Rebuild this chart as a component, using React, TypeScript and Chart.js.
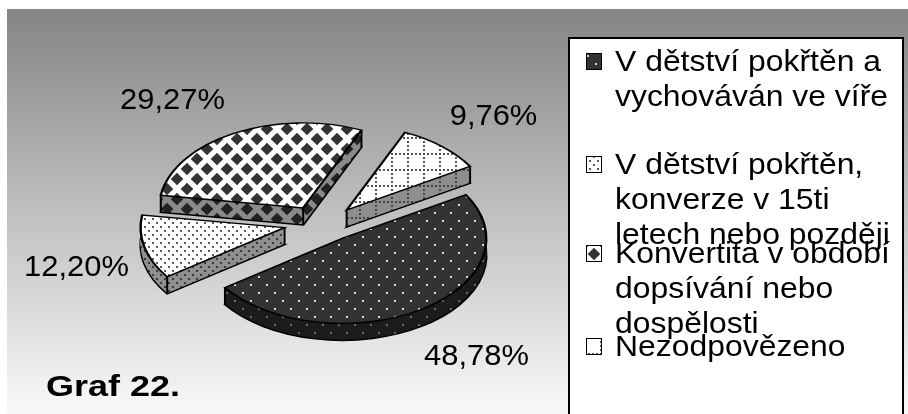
import React, { useEffect, useRef } from 'react';
import { Chart, PieController, ArcElement } from 'chart.js';

Chart.register(PieController, ArcElement);

// ---------------- data ----------------
const categories = [
  'V dětství pokřtěn a vychováván ve víře',
  'V dětství pokřtěn, konverze v 15ti letech nebo později',
  'Konvertita v období dopsívání nebo dospělosti',
  'Nezodpovězeno',
];
const legendLines = [
  ['V dětství pokřtěn a', 'vychováván ve víře'],
  ['V dětství pokřtěn,', 'konverze v 15ti', 'letech nebo později'],
  ['Konvertita v období', 'dopsívání nebo', 'dospělosti'],
  ['Nezodpovězeno'],
];
const values = [48.78, 12.2, 29.27, 9.76];
const valueLabels = ['48,78%', '12,20%', '29,27%', '9,76%'];
const title = 'Graf 22.';

// ---------------- layout / style ----------------
const W = 901;
const H = 405;
const RADIUS = 144;
const K = 0.59; // vertical squash of the pie
const DEPTH = 17;
const EXPLODE = 38;
const EXPLODE_KY = 0.47;
const BW = 2.4;
const labelOffsets = [
  [155, 133],
  [-245, 44],
  [-149, -123],
  [172, -107],
];
const legendBaselines = [
  [62, 97],
  [165, 200, 235],
  [254, 289, 324],
  [347],
];

function tile(w: number, h: number, draw: (g: CanvasRenderingContext2D) => void) {
  const c = document.createElement('canvas');
  c.width = w;
  c.height = h;
  const g = c.getContext('2d')!;
  draw(g);
  return c;
}

function dotsTile(size: number, bg: string, fg: string, pts: number[][], d: number) {
  return tile(size, size, (g) => {
    g.fillStyle = bg;
    g.fillRect(0, 0, size, size);
    g.fillStyle = fg;
    pts.forEach(([x, y]) => g.fillRect(x, y, d, d));
  });
}

function diamondTile(bg: string, fg: string) {
  const s = 20;
  const h = s / 2;
  const a = 6.3;
  return tile(s, s, (g) => {
    g.fillStyle = bg;
    g.fillRect(0, 0, s, s);
    g.fillStyle = fg;
    [[0, 0], [s, 0], [0, s], [s, s], [h, h]].forEach(([x, y]) => {
      g.beginPath();
      g.moveTo(x - a, y);
      g.lineTo(x, y - a);
      g.lineTo(x + a, y);
      g.lineTo(x, y + a);
      g.closePath();
      g.fill();
    });
  });
}

function gridTile(bg: string, fg: string) {
  return tile(16, 16, (g) => {
    g.fillStyle = bg;
    g.fillRect(0, 0, 16, 16);
    g.fillStyle = fg;
    for (let i = 0; i < 16; i += 4) {
      g.fillRect(0, i, 2, 2);
      if (i > 0) g.fillRect(i, 0, 2, 2);
    }
  });
}

function hText(ctx: CanvasRenderingContext2D, text: string, x: number, y: number, sx: number) {
  ctx.save();
  ctx.translate(x, y);
  ctx.scale(sx, 1);
  ctx.fillText(text, 0, 0);
  ctx.restore();
}

export default function App() {
  const ref = useRef<HTMLCanvasElement>(null);

  useEffect(() => {
    const canvas = ref.current!;
    const c2d = canvas.getContext('2d')!;
    const mk = (t: HTMLCanvasElement) => c2d.createPattern(t, 'repeat')!;

    const topPats = [
      mk(dotsTile(16, '#323232', '#d6d6d6', [[3, 3], [11, 11]], 2)),
      mk(dotsTile(8, '#ffffff', '#5a5a5a', [[1, 1], [5, 5]], 2)),
      mk(diamondTile('#ffffff', '#333333')),
      mk(gridTile('#ffffff', '#555555')),
    ];
    const sidePats = [
      mk(dotsTile(16, '#1c1c1c', '#6a6a6a', [[3, 3], [11, 11]], 2)),
      mk(dotsTile(8, '#8f8f8f', '#3a3a3a', [[1, 1], [5, 5]], 2)),
      mk(diamondTile('#8a8a8a', '#222222')),
      mk(gridTile('#8e8e8e', '#454545')),
    ];

    const anchor = (ctx: CanvasRenderingContext2D, p: CanvasPattern) => {
      p.setTransform(ctx.getTransform().inverse());
    };

    const drawArcWith = (arc: any, ctx: CanvasRenderingContext2D, fill: any, stroke: string, bw: number) => {
      const el = Object.create(arc);
      el.options = {
        offset: 0,
        spacing: 0,
        circular: true,
        borderAlign: 'center',
        backgroundColor: fill,
        borderColor: stroke,
        borderWidth: bw,
        borderJoinStyle: 'miter',
        borderDash: [],
        borderDashOffset: 0,
        borderRadius: 0,
      };
      arc.draw.call(el, ctx);
    };

    const bgPlugin = {
      id: 'bg',
      beforeDraw(chart: any) {
        const ctx = chart.ctx as CanvasRenderingContext2D;
        const g = ctx.createLinearGradient(0, 0, 0, chart.height);
        g.addColorStop(0, '#858585');
        g.addColorStop(1, '#f9f9f9');
        ctx.save();
        ctx.fillStyle = g;
        ctx.fillRect(0, 0, chart.width, chart.height);
        ctx.restore();
      },
    };

    const pie3d = {
      id: 'pie3d',
      beforeDatasetsDraw(chart: any) {
        const ctx = chart.ctx as CanvasRenderingContext2D;
        const arcs = chart.getDatasetMeta(0).data as any[];
        if (!arcs.length) return false;
        const cx = arcs[0].x;
        const cy = arcs[0].y;
        const shift = (a: any) => {
          const mid = (a.startAngle + a.endAngle) / 2;
          return [EXPLODE * Math.cos(mid), EXPLODE * EXPLODE_KY * Math.sin(mid)];
        };
        const place = (i: number, d: number) => {
          const [ex, ey] = shift(arcs[i]);
          ctx.translate(0, d);
          ctx.translate(ex, ey);
          ctx.translate(cx, cy);
          ctx.scale(1, K);
          ctx.translate(-cx, -cy);
        };
        // bottom outline
        arcs.forEach((a, i) => {
          ctx.save();
          place(i, DEPTH);
          anchor(ctx, sidePats[i]);
          drawArcWith(a, ctx, sidePats[i], '#000', BW);
          ctx.restore();
        });
        // side extrusion
        for (let d = DEPTH - 1; d >= 1; d--) {
          arcs.forEach((a, i) => {
            ctx.save();
            place(i, d);
            anchor(ctx, sidePats[i]);
            drawArcWith(a, ctx, sidePats[i], '#000', 0);
            ctx.restore();
          });
        }
        // vertical edges at the corners
        ctx.save();
        ctx.strokeStyle = '#000';
        ctx.lineWidth = 2;
        arcs.forEach((a) => {
          const [ex, ey] = shift(a);
          const r = a.outerRadius;
          const pts = [
            [cx + ex, cy + ey],
            [cx + ex + r * Math.cos(a.startAngle), cy + ey + K * r * Math.sin(a.startAngle)],
            [cx + ex + r * Math.cos(a.endAngle), cy + ey + K * r * Math.sin(a.endAngle)],
          ];
          pts.forEach(([x, y]) => {
            ctx.beginPath();
            ctx.moveTo(x, y);
            ctx.lineTo(x, y + DEPTH);
            ctx.stroke();
          });
        });
        ctx.restore();
        // top faces
        arcs.forEach((a, i) => {
          ctx.save();
          place(i, 0);
          anchor(ctx, topPats[i]);
          drawArcWith(a, ctx, topPats[i], '#000', BW);
          ctx.restore();
        });
        return false;
      },
    };

    const annot = {
      id: 'annot',
      afterDraw(chart: any) {
        const ctx = chart.ctx as CanvasRenderingContext2D;
        const arcs = chart.getDatasetMeta(0).data as any[];
        const cx = arcs[0].x;
        const cy = arcs[0].y;
        ctx.save();
        ctx.fillStyle = '#000';
        // value labels
        ctx.font = '30px "Liberation Sans", Arial, sans-serif';
        ctx.textAlign = 'center';
        ctx.textBaseline = 'middle';
        valueLabels.forEach((t, i) => {
          hText(ctx, t, cx + labelOffsets[i][0], cy + labelOffsets[i][1], 1.03);
        });
        // title
        ctx.font = 'bold 30px "Liberation Sans", Arial, sans-serif';
        ctx.textAlign = 'left';
        ctx.textBaseline = 'alphabetic';
        hText(ctx, title, 39, 387, 1.2);
        // legend box
        ctx.fillStyle = '#ffffff';
        ctx.fillRect(562, 29, 334, 400);
        ctx.strokeStyle = '#000';
        ctx.lineWidth = 2;
        ctx.strokeRect(562, 29, 334, 400);
        ctx.font = '29px "Liberation Sans", Arial, sans-serif';
        legendLines.forEach((lines, i) => {
          const b0 = legendBaselines[i][0];
          ctx.setTransform(1, 0, 0, 1, 0, 0);
          topPats[i].setTransform(new DOMMatrix([1, 0, 0, 1, 577, b0 - 19]));
          ctx.fillStyle = topPats[i];
          ctx.fillRect(579, b0 - 18, 16, 17);
          ctx.lineWidth = 1;
          ctx.strokeStyle = '#000';
          ctx.strokeRect(579.5, b0 - 17.5, 15, 16);
          ctx.fillStyle = '#000';
          lines.forEach((ln, j) => hText(ctx, ln, 608, legendBaselines[i][j], 1.1));
        });
        ctx.restore();
      },
    };

    const chart = new Chart(canvas, {
      type: 'pie',
      data: {
        labels: categories,
        datasets: [
          {
            data: values,
            backgroundColor: topPats as any,
            borderColor: '#000',
            borderWidth: BW,
            rotation: 59,
            radius: RADIUS,
          } as any,
        ],
      },
      options: {
        animation: false,
        responsive: false,
        events: [],
        layout: { padding: { left: 0, right: 272, top: 24, bottom: 0 } },
        plugins: { legend: { display: false }, tooltip: { enabled: false } } as any,
      },
      plugins: [bgPlugin, pie3d, annot],
    });
    return () => chart.destroy();
  }, []);

  return (
    <div style={{ position: 'fixed', left: 7, top: 9, width: W, height: H }}>
      <canvas ref={ref} width={W} height={H} style={{ display: 'block', width: W, height: H }} />
    </div>
  );
}
